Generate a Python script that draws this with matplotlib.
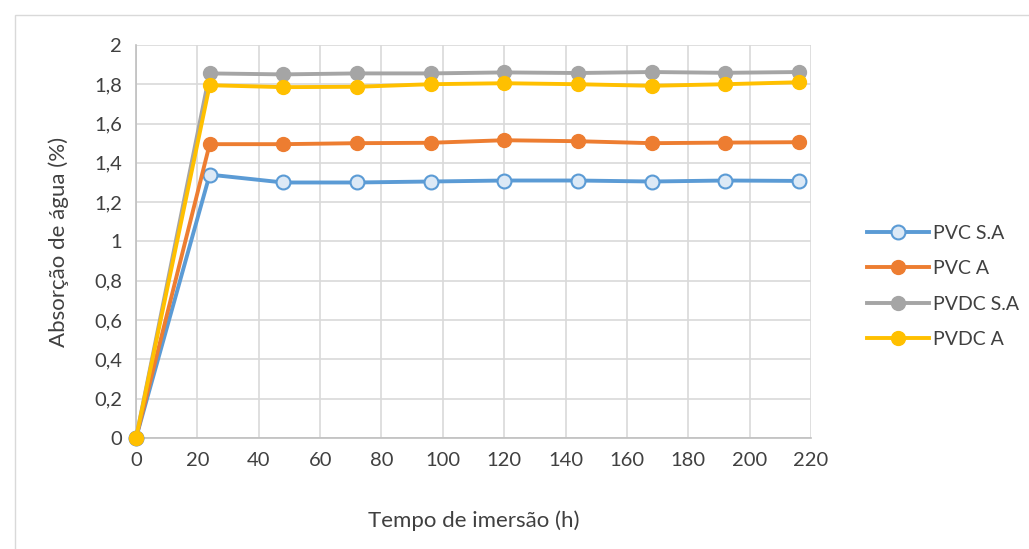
import matplotlib.pyplot as plt
from matplotlib.patches import Rectangle

plt.rcParams['font.family'] = ['Lato', 'DejaVu Sans']

tempo = [0, 24, 48, 72, 96, 120, 144, 168, 192, 216]
pvc_sa = [0, 1.34, 1.30, 1.30, 1.305, 1.31, 1.31, 1.305, 1.31, 1.308]
pvc_a = [0, 1.495, 1.495, 1.50, 1.502, 1.515, 1.51, 1.50, 1.503, 1.505]
pvdc_sa = [0, 1.855, 1.85, 1.855, 1.855, 1.86, 1.857, 1.862, 1.858, 1.862]
pvdc_a = [0, 1.795, 1.785, 1.787, 1.80, 1.805, 1.80, 1.792, 1.80, 1.81]

fig = plt.figure(figsize=(10.29, 5.49), dpi=100)
ax = fig.add_axes([0.1322, 0.2022, 0.656, 0.716])

# moldura do gráfico
fig.patches.append(Rectangle((0.0146, -0.1), 1.2, 1.073, transform=fig.transFigure,
                             fill=False, edgecolor='#d9d9d9', linewidth=1.0))

lw = 2.8
ms = 10
ax.plot(tempo, pvc_sa, color='#5B9BD5', lw=lw, marker='o', ms=ms,
        mfc='#dce9f6', mec='#5B9BD5', mew=1.5, label='PVC S.A', zorder=3, clip_on=False)
ax.plot(tempo, pvc_a, color='#ED7D31', lw=lw, marker='o', ms=ms,
        mfc='#ED7D31', mec='#ED7D31', label='PVC A', zorder=3, clip_on=False)
ax.plot(tempo, pvdc_sa, color='#A5A5A5', lw=lw, marker='o', ms=ms,
        mfc='#A5A5A5', mec='#A5A5A5', label='PVDC S.A', zorder=3, clip_on=False)
ax.plot(tempo, pvdc_a, color='#FFC000', lw=lw, marker='o', ms=ms,
        mfc='#FFC000', mec='#FFC000', label='PVDC A', zorder=3, clip_on=False)

ax.set_xlim(0, 220)
ax.set_ylim(0, 2)
ax.set_xticks(range(0, 221, 20))
yt = [i / 10 for i in range(0, 21, 2)]
ax.set_yticks(yt)
ax.set_yticklabels([('%g' % v).replace('.', ',') for v in yt])
ax.grid(True, color='#d9d9d9', lw=1.2)
ax.set_axisbelow(True)
for s in ['top', 'right']:
    ax.spines[s].set_visible(False)
for s in ['left', 'bottom']:
    ax.spines[s].set_color('#bfbfbf')
    ax.spines[s].set_linewidth(1.2)
ax.tick_params(length=0, labelsize=14.5, pad=10)
for lab in ax.get_xticklabels() + ax.get_yticklabels():
    lab.set_color('#404040')

ax.set_xlabel('Tempo de imersão (h)', fontsize=16, color='#404040', labelpad=30)
ax.set_ylabel('Absorção de água (%)', fontsize=16, color='#404040', labelpad=18)

fig.legend(loc='upper left', bbox_to_anchor=(0.835, 0.605), frameon=False,
           fontsize=14, labelcolor='#404040', handlelength=3.2, handletextpad=0.2,
           labelspacing=0.95, borderaxespad=0)

fig.savefig('out.png', dpi=100)
